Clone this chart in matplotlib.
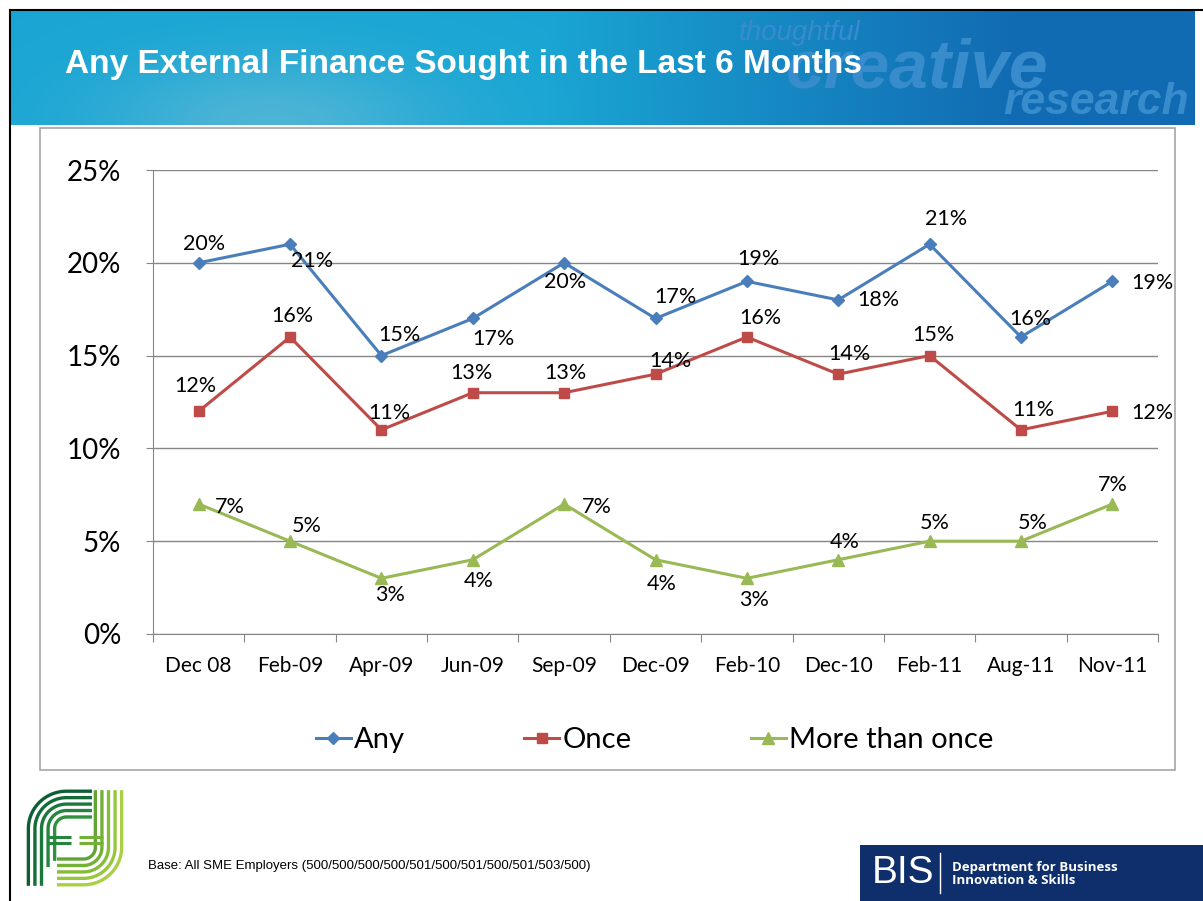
import numpy as np
import matplotlib
matplotlib.use('Agg')
import matplotlib.pyplot as plt
from matplotlib.patches import Rectangle

categories = ['Dec 08', 'Feb-09', 'Apr-09', 'Jun-09', 'Sep-09', 'Dec-09',
              'Feb-10', 'Dec-10', 'Feb-11', 'Aug-11', 'Nov-11']
any_vals = [20, 21, 15, 17, 20, 17, 19, 18, 21, 16, 19]
once_vals = [12, 16, 11, 13, 13, 14, 16, 14, 15, 11, 12]
more_vals = [7, 5, 3, 4, 7, 4, 3, 4, 5, 5, 7]
y_ticks = [0, 5, 10, 15, 20, 25]

# label offsets in pixels (dx, dy) per point
any_off = [(5, 19), (22, -17), (18, 21), (21, -21), (1, -19), (20, 21), (12, 22), (40, 0), (16, 25), (9, 18), (40, -2)]
once_off = [(-3, 25), (2, 21), (8, 17), (-1, 20), (1, 20), (15, 13), (13, 19), (11, 20), (4, 21), (12, 20), (40, -2)]
more_off = [(31, -3), (17, 15), (9, -17), (6, -21), (33, -3), (6, -24), (7, -22), (6, 18), (5, 18), (12, 18), (0, 19)]

W, H = 1203, 901
fig = plt.figure(figsize=(W / 100, H / 100), dpi=100)
fig.patch.set_facecolor('white')

# header banner with gradient
bg = fig.add_axes([10 / W, 1 - 125 / H, 1185 / W, 115 / H])
xs = np.linspace(0, 1, 400)
ys = np.linspace(0, 1, 60)
X, Y = np.meshgrid(xs, ys)
c_left = np.array([0.10, 0.65, 0.83])
c_right = np.array([0.07, 0.42, 0.70])
t = np.clip((X - 0.45) / 0.4, 0, 1)[..., None]
img = c_left * (1 - t) + c_right * t
glow = np.exp(-((X - 0.22) ** 2) / 0.02 - ((Y - 1.0) ** 2) / 0.35)[..., None]
img = img * (1 - 0.45 * glow) + np.array([0.55, 0.78, 0.85]) * 0.45 * glow
bg.imshow(img, aspect='auto', extent=[0, 1, 0, 1], origin='upper')
bg.set_xlim(0, 1)
bg.set_ylim(0, 1)
bg.axis('off')
wm = (0.22, 0.55, 0.80)
bg.text(0.615, 0.80, 'thoughtful', fontsize=20, style='italic', color=wm, family='Liberation Sans', ha='left', va='center')
bg.text(0.655, 0.48, 'creative', fontsize=50, style='italic', weight='bold', color=wm, family='Liberation Sans', ha='left', va='center')
bg.text(0.995, 0.2, 'research', fontsize=32, style='italic', weight='bold', color=wm, family='Liberation Sans', ha='right', va='center')
fig.text(65 / W, 1 - 64 / H, 'Any External Finance Sought in the Last 6 Months', fontsize=24,
         weight='bold', color='white', family='Liberation Sans', ha='left', va='center')

# slide border
fig.add_artist(plt.Line2D([10 / W, 10 / W], [0, 1 - 10 / H], color='black', lw=1.5, transform=fig.transFigure))
fig.add_artist(plt.Line2D([10 / W, 1], [1 - 10 / H, 1 - 10 / H], color='black', lw=1.5, transform=fig.transFigure))

# chart frame
fig.add_artist(Rectangle((40 / W, 1 - 770 / H), 1135 / W, 642 / H, transform=fig.transFigure,
                         fill=False, edgecolor='#A6A6A6', lw=1.2))

ax = fig.add_axes([153 / W, 1 - 634 / H, 1005 / W, 464 / H])
x = np.arange(len(categories)) + 0.5
series = [
    ('Any', any_vals, '#4A7EBB', 'D', 6, any_off),
    ('Once', once_vals, '#BE4B48', 's', 7, once_off),
    ('More than once', more_vals, '#98B954', '^', 8, more_off),
]
for name, vals, col, mk, ms, offs in series:
    ax.plot(x, vals, color=col, lw=2.2, marker=mk, markersize=ms, label=name)
    for xi, v, (dx, dy) in zip(x, vals, offs):
        ax.annotate(f'{v}%', (xi, v), xytext=(dx, dy), textcoords='offset pixels',
                    ha='center', va='center', fontsize=15.5, family='Lato', color='black')

ax.set_xlim(0, len(categories))
ax.set_ylim(0, 25)
ax.set_yticks(y_ticks)
ax.set_yticklabels([f'{v}%' for v in y_ticks], fontsize=20, family='Lato')
ax.set_xticks(np.arange(len(categories) + 1))
ax.set_xticklabels([])
ax.set_xticks(x, minor=True)
ax.set_xticklabels(categories, minor=True, fontsize=15, family='Lato')
ax.tick_params(axis='x', which='major', length=6, color='#868686', direction='out')
ax.tick_params(axis='x', which='minor', length=0, pad=16)
ax.tick_params(axis='y', length=5, color='#868686', pad=18)
ax.grid(axis='y', color='#868686', lw=1)
ax.set_axisbelow(True)
for s in ['top', 'right']:
    ax.spines[s].set_visible(False)
ax.spines['left'].set_color('#868686')
ax.spines['bottom'].set_color('#868686')

leg = fig.legend(loc='center', bbox_to_anchor=(0.544, 1 - 740 / H), ncol=3, frameon=False,
                 prop={'family': 'Lato', 'size': 21}, handlelength=1.2, handletextpad=0.1,
                 columnspacing=4.1)

# green logo (simplified striped F / J)
lg = fig.add_axes([22 / W, 1 - 890 / H, 106 / W, 104 / H])
lg.set_xlim(0, 10)
lg.set_ylim(0, 10)
lg.axis('off')
f_cols = ['#0E5E34', '#136B37', '#1A783A', '#24853C', '#2F913D']
j_cols = ['#A9D045', '#98C63F', '#86BC3A', '#72B036', '#5FA434']
for i in range(5):
    r = 3.6 - i * 0.62
    # F: left vertical, top-left arc, top horizontal
    a = np.linspace(np.pi, np.pi / 2, 30)
    fx = np.concatenate([[4.2 - r], 4.2 + r * np.cos(a), [6.6]])
    fy = np.concatenate([[0.4 + i * 0.6 if i > 2 else 0.4], 5.9 + r * np.sin(a), [5.9 + r]])
    lg.plot(fx, fy, color=f_cols[i], lw=2.4, solid_capstyle='butt')
    # J: right vertical, bottom-right arc, bottom horizontal
    b = np.linspace(0, -np.pi / 2, 30)
    jx = np.concatenate([[5.8 + r], 5.8 + r * np.cos(b), [3.3]])
    jy = np.concatenate([[9.6], 4.1 + r * np.sin(b), [4.1 - r]])
    lg.plot(jx, jy, color=j_cols[i], lw=2.4, solid_capstyle='butt')
for k, yy in enumerate([4.5, 5.1]):
    lg.plot([2.4, 4.6], [yy, yy], color=f_cols[3], lw=2.2, solid_capstyle='butt')
    lg.plot([5.4, 7.6], [yy, yy], color=j_cols[3], lw=2.2, solid_capstyle='butt')

fig.text(148 / W, 1 - 866 / H, 'Base: All SME Employers (500/500/500/500/501/500/501/500/501/503/500)',
         fontsize=9.5, family='Liberation Sans', ha='left', va='center')

# BIS logo
fig.add_artist(Rectangle((860 / W, 0), 343 / W, 56 / H, transform=fig.transFigure,
                         facecolor='#0E2F6B', edgecolor='none'))
fig.text(872 / W, 1 - 873 / H, 'BIS', fontsize=28, color='white', family='Liberation Sans',
         ha='left', va='center')
fig.add_artist(plt.Line2D([940 / W, 940 / W], [1 - 893 / H, 1 - 853 / H], color='white', lw=1,
                          transform=fig.transFigure))
fig.text(952 / W, 1 - 874 / H, 'Department for Business\nInnovation & Skills', fontsize=9.5,
         weight='bold', color='white', family='Open Sans', ha='left', va='center', linespacing=1.1)

fig.savefig('out.png', dpi=100)
